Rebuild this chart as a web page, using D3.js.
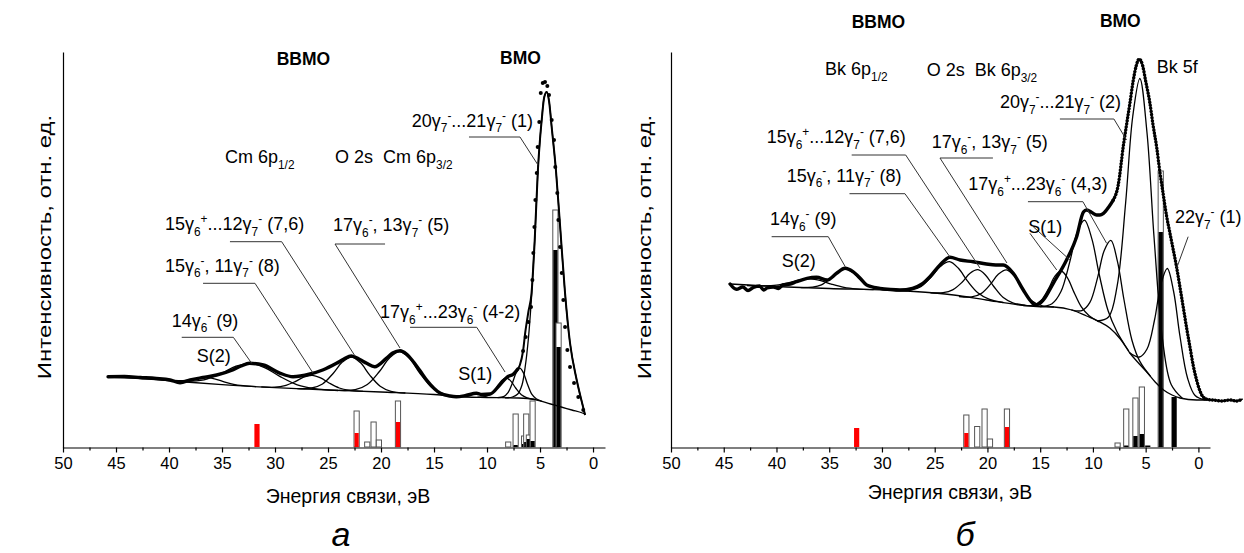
<!DOCTYPE html>
<html><head><meta charset="utf-8">
<script src="https://cdnjs.cloudflare.com/ajax/libs/d3/7.8.5/d3.min.js"></script>
<style>
body{margin:0;background:#fff}
svg{display:block}
text{font-family:"Liberation Sans",Arial,sans-serif;fill:#000}
</style></head>
<body><svg id="c" width="1244" height="553"></svg>
<script>
// ---------------- DATA ----------------
const tickValues = [50,45,40,35,30,25,20,15,10,5,0];
const minorTicks = [47.5,42.5,37.5,32.5,27.5,22.5,17.5,12.5,7.5,2.5];
const xTitle = "Энергия связи, эВ";
const yTitle = "Интенсивность, отн. ед.";

// Left panel (Cm) experimental spectrum (E eV, intensity)
const leftExp = [[45.75,70.3],[44.2,70.5],[42.7,69.5],[41.2,68.5],[39.9,67],[38.96,64.3],[38.0,67],[36.8,69.5],[35.5,72],[34.0,77],[33.2,81],[32.4,83.7],[31.1,82],[29.5,73.7],[28.3,70.3],[26.7,73],[25.5,77],[24.2,83.7],[23.5,88],[22.8,91],[22.0,87.5],[21.35,83.7],[20.6,80.3],[19.5,88.7],[18.9,94],[18.2,96.3],[17.6,93],[16.95,85.3],[16.3,76],[15.7,67],[14.4,53.7],[13.5,51],[12.9,50.3],[12.0,51.5],[11.0,53.7],[10.5,52.5],[9.7,53],[8.8,62],[8.1,70],[7.5,73],[7.1,78]];
const leftDots = [[6.6,96],[6.35,110],[6.1,125],[5.85,140],[5.72,167],[5.63,194],[5.53,220],[5.44,247],[5.31,274],[5.22,300],[5.07,325],[4.93,354],[4.74,364],[4.53,365],[4.31,361],[4.15,352],[3.9,327],[3.68,307],[3.56,280],[3.37,254],[3.27,227],[3.11,200],[2.95,174],[2.8,147],[2.64,120],[2.42,97],[2.17,80],[1.79,64],[1.39,50],[0.92,37]];
const leftEnv = [[7.2,76],[6.9,82],[6.6,96],[6.4,114],[6.1,135],[5.8,154],[5.5,207],[5.2,277],[5.0,308],[4.84,327],[4.6,350],[4.37,355],[4.15,346],[3.9,320],[3.5,277],[3.1,220],[2.64,154],[2.17,104],[1.54,67],[1.1,47],[0.75,32]];
const leftBg = [[45.75,70],[42,68],[39,65.5],[35,62.3],[30,59.3],[25,57],[20,55],[15,52.5],[13,50.5],[10,49.5],[7,49],[5.5,47.5],[4,43],[3,40],[2,37],[1,34],[0.75,33]];
const leftCompS2 = [[40.8,67.7],[39.6,66.6],[38.7,66.3],[37.8,67.5],[37.05,68.8],[36.3,69.3],[35.55,67.7],[34.8,65.2],[33.9,62.6],[33.0,61.3],[31.8,60.4]];
const leftComp9 = [[40.55,67.2],[38.35,65.7],[36.7,67.2],[35.05,73.8],[33.68,80.8],[32.3,83.7],[30.93,79.2],[29.55,70.6],[27.9,62.2],[26.25,58.3],[24.05,56.5]];
const leftComp8 = [[31.3,60.1],[30.02,59.8],[29.06,61.3],[28.1,65.4],[27.3,69.8],[26.5,71.7],[25.7,69.1],[24.9,64],[23.94,59],[22.98,56.7],[21.7,55.7]];
const leftComp76 = [[27.9,58.3],[26.54,59],[25.52,63],[24.5,73.8],[23.65,84.9],[22.8,90],[21.95,84.4],[21.1,72.4],[20.08,60.8],[19.06,55.7],[17.7,54]];
const leftComp5 = [[23.95,56.6],[22.43,57.3],[21.29,62.5],[20.15,75.5],[19.2,89],[18.25,95.3],[17.3,88.4],[16.35,74],[15.21,59.6],[14.07,53],[12.55,50.4]];
const leftCompS1 = [[10.9,49.8],[10.18,50.3],[9.64,52.9],[9.1,59.4],[8.65,66.1],[8.2,69.2],[7.75,65.9],[7.3,59],[6.76,52.2],[6.22,49.1],[5.5,47.5]];
const leftComp42 = [[9.0,49.4],[8.44,50.3],[8.02,54.3],[7.6,64.1],[7.25,74.2],[6.9,78.9],[6.55,73.8],[6.2,63.3],[5.78,52.9],[5.36,48.3],[4.8,45.5]];
const leftComp1 = [[8.3,49.2],[7.6,50],[7.1,53],[6.7,62],[6.4,80],[6.1,108],[5.8,150],[5.5,207],[5.2,277],[5.0,308],[4.84,327],[4.6,350],[4.37,355],[4.15,346],[3.9,320],[3.5,277],[3.1,220],[2.64,154],[2.17,104],[1.54,67],[1.1,47],[0.75,32]];
// left theoretical bars
const leftBarE     = [31.7,22.3,21.3,20.7,20.2,18.4,8.0,7.3,6.5,6.3,6.05,5.7,3.55,3.25];
const leftBarTotal = [23,  36,  5,   25,  7,   46,  5,  33, 11, 33, 12,  46, 237, 124];
const leftBarPart  = [23,  14,  0,   0,   0,   25,  0,  2,  3,  5,  8,   6,  197, 100];
const leftBarColor = ["red","red","red","red","red","red","black","black","black","black","black","black","black","black"];

// Right panel (Bk)
const rightExp = [[44.4,163],[43.8,157.7],[43.2,160],[42.7,156.5],[42.2,159.5],[41.6,161],[41.2,157],[40.9,159],[40.3,160],[39.8,158.5],[39.4,162],[38.7,163],[38.1,165.3],[37.1,168.7],[36.2,169.7],[35.2,167],[34.3,173.7],[33.5,178.7],[32.75,175.3],[32.0,168],[31.45,162],[30.2,158.7],[29.2,157.5],[28.3,157],[27.1,158.7],[26.2,163],[25.45,170.3],[24.5,182],[23.55,189.7],[22.6,187],[21.35,185.3],[20.1,183],[19.2,182],[18.5,182],[17.55,173.7],[16.6,157],[15.9,146],[15.5,142],[15.1,143],[14.7,147],[13.76,163.7],[12.5,187],[11.55,210],[10.9,235],[10.6,237],[10.1,234.5],[9.65,232],[9.34,232],[9.0,233.7],[8.5,240],[8.07,247]];
const rightPeak = [[8.07,247],[7.6,262],[7.13,300],[6.8,323],[6.49,344],[6.2,365],[5.9,381],[5.61,388],[5.3,382],[5.0,366],[4.6,344],[4.3,322],[3.96,300],[3.65,275],[3.34,253],[3.0,230],[2.7,214],[2.4,198],[2.07,180],[1.75,160],[1.44,140],[1.1,118],[0.8,100],[0.5,82],[0.17,67],[-0.15,56],[-0.45,50],[-0.9,47.5],[-1.4,47],[-2.2,46],[-3,47],[-3.6,46],[-4.2,48]];
const rightBg = [[44.4,163],[39,160],[35,158.5],[29.5,157],[25,154],[23.2,152],[20.1,147],[16.9,142],[15.3,140.5],[13.7,140],[12,137],[10.6,131],[9.5,126],[8.4,119],[7.4,108],[6.5,94],[5.6,83],[4.9,75],[4.1,65],[3.3,57],[2.5,52],[1.75,49],[0.17,47],[-1.5,47]];
const rightCompS2 = [[42.8,161.5],[41.2,161.1],[40,161.8],[38.8,164.3],[37.8,167],[36.8,168.1],[35.8,166.3],[34.8,162.9],[33.6,159.6],[32.4,158.1],[30.8,157.4]];
const rightComp9 = [[37.7,159.4],[36.58,159.8],[35.74,162.1],[34.9,168.5],[34.2,175.1],[33.5,178.2],[32.8,174.8],[32.1,167.8],[31.26,161],[30.42,158.1],[29.3,157]];
const rightComp8 = [[28.7,156.3],[27.34,156.7],[26.32,160.4],[25.3,170.5],[24.45,180.7],[23.6,185.4],[22.75,178.7],[21.9,166.1],[20.88,153.9],[19.86,147.8],[18.5,144.5]];
const rightComp76 = [[25.4,154.2],[24.2,154.3],[23.3,157.1],[22.4,164.8],[21.65,173.8],[20.9,177.3],[20.15,171.5],[19.4,160.5],[18.5,149.4],[17.6,144.2],[16.4,141.7]];
const rightComp5 = [[22.7,150.5],[21.5,150.2],[20.6,153.4],[19.7,162.9],[18.95,172.9],[18.2,177.2],[17.45,170.9],[16.7,158.3],[15.8,146.2],[14.9,141.5],[13.7,140]];
const rightCompS1 = [[16.6,141.5],[15.64,142],[14.92,146.6],[14.2,158.5],[13.6,170.9],[13.0,176],[12.4,168.9],[11.8,154.9],[11.08,139.8],[10.36,131.3],[9.4,125]];
const rightComp4 = [[15.0,140.3],[13.88,143.3],[13.04,155.2],[12.2,184.9],[11.5,214.3],[10.8,226.8],[10.1,208.1],[9.4,172.5],[8.56,136.2],[7.72,115.3],[6.6,96]];
const rightComp3 = [[12.05,137.2],[11.05,136.4],[10.3,144.3],[9.55,169.7],[8.925,196.6],[8.3,206.6],[7.675,185.6],[7.05,147],[6.3,106.8],[5.55,85.6],[4.55,70.8]];
const rightComp2 = [[9.6,126],[8.52,130],[7.71,160.6],[6.9,244],[6.225,330.5],[5.55,368.5],[4.875,314.5],[4.2,209],[3.39,106.6],[2.58,62.5],[1.5,48.5]];
const rightComp1 = [[6.55,94.5],[5.59,90],[4.87,98],[4.15,127.5],[3.55,163],[2.95,178.5],[2.35,155.5],[1.75,111],[1.03,69],[0.31,51.5],[-0.65,47]];
const rightBarE     = [32.4,22.0,20.97,20.27,19.76,18.15,7.66,6.84,5.97,5.36,4.8,3.57,2.3];
const rightBarTotal = [19,  32,  20.5, 38,   8,    38,   4,   38,  49,  60,  1.5,276, 50];
const rightBarPart  = [19,  14,  0,    0,    0,    20,   0,   1.5, 11,  13,  1.5,215, 50];
const rightBarColor = ["red","red","red","red","red","red","black","black","black","black","black","black","black"];

// annotations: [E, intensity, text]
const leftLabels = [
  [34.72,283.7,"Cm 6p_{1/2}"],[24.34,283.7,"O 2s\u00a0\u00a0Cm 6p_{3/2}"],
  [17.1,320.3,"20γ_7^-...21γ_7^- (1)"],[40.38,217,"15γ_6^+...12γ_7^- (7,6)"],
  [24.53,216,"17γ_6^-, 13γ_7^- (5)"],[40.38,175.3,"15γ_6^-, 11γ_7^- (8)"],
  [39.75,120.3,"14γ_6^- (9)"],[37.39,85.3,"S(2)"],
  [20.09,128.7,"17γ_6^+...23γ_6^- (4-2)"],[12.71,67,"S(1)"]];
const leftBold = [[29.84,382,"ВВМО"],[8.77,383.5,"ВМО"]];
const leftLeaders = [
  [[11.7,310],[6.89,310],[5.19,282]],
  [[34.25,205.3],[29.37,205.3],[22.45,91]],
  [[36.79,163.7],[31.89,163.7],[26.42,74]],
  [[19.62,203],[24.34,203],[18.21,99]],
  [[17.26,119.7],[10.97,119.7],[8.3,75]],
  [[38.8,109.7],[33.93,109.7],[32.2,83.7]]];
const rightLabels = [
  [35.4,372,"Bk 6p_{1/2}"],[25.76,371,"O 2s\u00a0\u00a0Bk 6p_{3/2}"],[3.96,373.7,"Bk 5f"],
  [18.82,338.7,"20γ_7^-...21γ_7^- (2)"],[25.29,298.7,"17γ_6^-, 13γ_7^- (5)"],
  [21.82,257,"17γ_6^+...23γ_6^- (4,3)"],[40.93,303.7,"15γ_6^+...12γ_7^- (7,6)"],
  [39.03,265.3,"15γ_6^-, 11γ_7^- (8)"],[40.62,222,"14γ_6^- (9)"],
  [39.51,180.3,"S(2)"],[16.13,213.7,"S(1)"],[2.23,223.7,"22γ_7^- (1)"]];
const rightBold = [[32.87,418.7,"ВВМО"],[9.34,420.3,"ВМО"]];
const rightLeaders = [
  [[13.13,328],[8.01,328],[6.81,307]],
  [[19.48,289],[24.5,289],[18.15,184]],
  [[32.87,292],[27.75,292],[20.71,179]],
  [[33.08,253.3],[27.82,253.3],[23.55,190]],
  [[16.16,245.3],[10.95,245.3],[8.7,203.7]],
  [[15.66,220.3],[12.18,187]],
  [[15.97,213.7],[13.43,177]],
  [[40.46,210.3],[35.09,210.3],[33.48,180.3]],
  [[0.97,210.3],[2.07,178.7]]];

// ---------------- DRAW ----------------
const svg = d3.select("#c");
const y = d3.scaleLinear().domain([0,400]).range([447,47]);
const yAx = d3.scaleLinear().domain([0,1]).range([447.5,52]);

function rich(g, x, yy, spec, size, opts={}){
  const t = g.append("text").attr("x",x).attr("y",yy).attr("font-size",size)
    .attr("text-anchor",opts.anchor||"start");
  if(opts.bold) t.attr("font-weight","bold");
  const tokens=[]; let buf="", i=0;
  while(i<spec.length){
    const c=spec[i];
    if(c==="_"||c==="^"){
      if(buf){tokens.push({s:buf,m:0});buf="";}
      let gtxt;
      if(spec[i+1]==="{"){const j=spec.indexOf("}",i);gtxt=spec.slice(i+2,j);i=j+1;}
      else {gtxt=spec[i+1];i+=2;}
      tokens.push({s:gtxt,m:c==="_"?1:-1});
    } else {buf+=c;i++;}
  }
  if(buf) tokens.push({s:buf,m:0});
  let cur=0;
  tokens.forEach(tk=>{
    const target = tk.m===1? size*0.32 : tk.m===-1? -size*0.4 : 0;
    const sp=t.append("tspan").attr("dy",target-cur).text(tk.s);
    if(tk.m) sp.attr("font-size",size*0.66);
    cur=target;
  });
  return t;
}

function panel(cfg){
  const x = d3.scaleLinear().domain(cfg.domain).range(cfg.range);
  const g = svg.append("g");
  const line = d3.line().x(d=>x(d[0])).y(d=>y(d[1])).curve(d3.curveMonotoneX);
  const smooth = d3.line().x(d=>x(d[0])).y(d=>y(d[1])).curve(d3.curveCatmullRom.alpha(0.5));

  // axes
  const ax = g.append("g").attr("transform",`translate(0,${y(0)+0.5})`)
    .call(d3.axisBottom(x).tickValues(tickValues).tickSize(5).tickSizeOuter(0).tickPadding(5).tickFormat(d3.format("d")));
  ax.selectAll("text").attr("font-size",16.5).attr("font-family","Liberation Sans, Arial, sans-serif").attr("fill","#000");
  ax.selectAll("line,path").attr("stroke","#000").attr("stroke-width",1.2);
  const axm = g.append("g").attr("transform",`translate(0,${y(0)+0.5})`)
    .call(d3.axisBottom(x).tickValues(minorTicks).tickSize(3).tickSizeOuter(0).tickFormat(""));
  axm.select("path").remove();
  axm.selectAll("line").attr("stroke","#000").attr("stroke-width",1.2);
  g.append("g").attr("transform",`translate(${cfg.range[0]},0)`)
    .call(d3.axisLeft(yAx).tickValues([]).tickSizeOuter(0))
    .selectAll("path").attr("stroke","#000").attr("stroke-width",1.2);

  // axis titles
  g.append("text").attr("x",cfg.xTitlePos[0]).attr("y",cfg.xTitlePos[1]).attr("text-anchor","middle")
    .attr("font-size",19.5).text(xTitle);
  g.append("text").attr("transform",`translate(${cfg.yTitlePos[0]},${cfg.yTitlePos[1]}) rotate(-90) scale(1.33,1)`)
    .attr("text-anchor","middle").attr("font-size",18).text(yTitle);
  g.append("text").attr("x",cfg.letterPos[0]).attr("y",cfg.letterPos[1]).attr("text-anchor","middle")
    .attr("font-family","Liberation Serif, serif").attr("font-style","italic").attr("font-size",34).text(cfg.letter);

  // bars
  const bw = 5.2;
  cfg.barE.forEach((e,i)=>{
    const tot=cfg.barTotal[i], part=cfg.barPart[i], col=cfg.barColor[i]==="red"?"#ff0000":"#000";
    if(tot>part){
      g.append("rect").attr("x",x(e)-bw/2).attr("y",y(tot)).attr("width",bw).attr("height",y(0)-y(tot))
        .attr("fill","#fff").attr("stroke","#555").attr("stroke-width",1);
    }
    if(part>0){
      g.append("rect").attr("x",x(e)-bw/2+(tot>part?0.5:0)).attr("y",y(part)).attr("width",bw-(tot>part?1:0)).attr("height",y(0)-y(part))
        .attr("fill",col);
    }
  });

  // background & components
  g.append("path").datum(cfg.bg).attr("d",line).attr("fill","none").attr("stroke","#000").attr("stroke-width",1.3);
  cfg.comps.forEach(c=>{
    g.append("path").datum(c).attr("d",smooth).attr("fill","none").attr("stroke","#000").attr("stroke-width",1.3);
  });
  // experimental
  g.append("path").datum(cfg.exp).attr("d",line).attr("fill","none").attr("stroke","#000")
    .attr("stroke-width",3.4).attr("stroke-linejoin","round").attr("stroke-linecap","round");
  if(cfg.env) g.append("path").datum(cfg.env).attr("d",line).attr("fill","none").attr("stroke","#000").attr("stroke-width",2);
  if(cfg.dots) g.selectAll(null).data(cfg.dots).join("circle").attr("cx",d=>x(d[0])).attr("cy",d=>y(d[1])).attr("r",2).attr("fill","#000");
  if(cfg.peak){
    g.append("path").datum(cfg.peak).attr("d",line).attr("fill","none").attr("stroke","#000").attr("stroke-width",1.4);
    g.append("path").datum(cfg.peak).attr("d",line).attr("fill","none").attr("stroke","#000").attr("stroke-width",3.4)
      .attr("stroke-linecap","round").attr("stroke-dasharray","0.1,3");
  }

  // leaders
  const ll = d3.line().x(d=>x(d[0])).y(d=>y(d[1]));
  cfg.leaders.forEach(L=>{
    g.append("path").datum(L).attr("d",ll).attr("fill","none").attr("stroke","#333").attr("stroke-width",1);
  });
  cfg.labels.forEach(L=>rich(g,x(L[0]),y(L[1]),L[2],18));
  cfg.bold.forEach(L=>rich(g,x(L[0]),y(L[1]),L[2],17.5,{bold:true}));
}

panel({domain:[50,-1.13],range:[63,605],exp:leftExp,env:leftEnv,dots:leftDots,bg:leftBg,
  comps:[leftCompS2,leftComp9,leftComp8,leftComp76,leftComp5,leftCompS1,leftComp42,leftComp1],
  barE:leftBarE,barTotal:leftBarTotal,barPart:leftBarPart,barColor:leftBarColor,
  labels:leftLabels,bold:leftBold,leaders:leftLeaders,
  xTitlePos:[348,503],yTitlePos:[51,247],letterPos:[341,546],letter:"а"});
panel({domain:[50,-1.1],range:[671,1210],exp:rightExp,peak:rightPeak,bg:rightBg,
  comps:[rightCompS2,rightComp9,rightComp8,rightComp76,rightComp5,rightCompS1,rightComp4,rightComp3,rightComp2,rightComp1],
  barE:rightBarE,barTotal:rightBarTotal,barPart:rightBarPart,barColor:rightBarColor,
  labels:rightLabels,bold:rightBold,leaders:rightLeaders,
  xTitlePos:[950,499],yTitlePos:[651,247],letterPos:[965,546],letter:"б"});
</script></body></html>
